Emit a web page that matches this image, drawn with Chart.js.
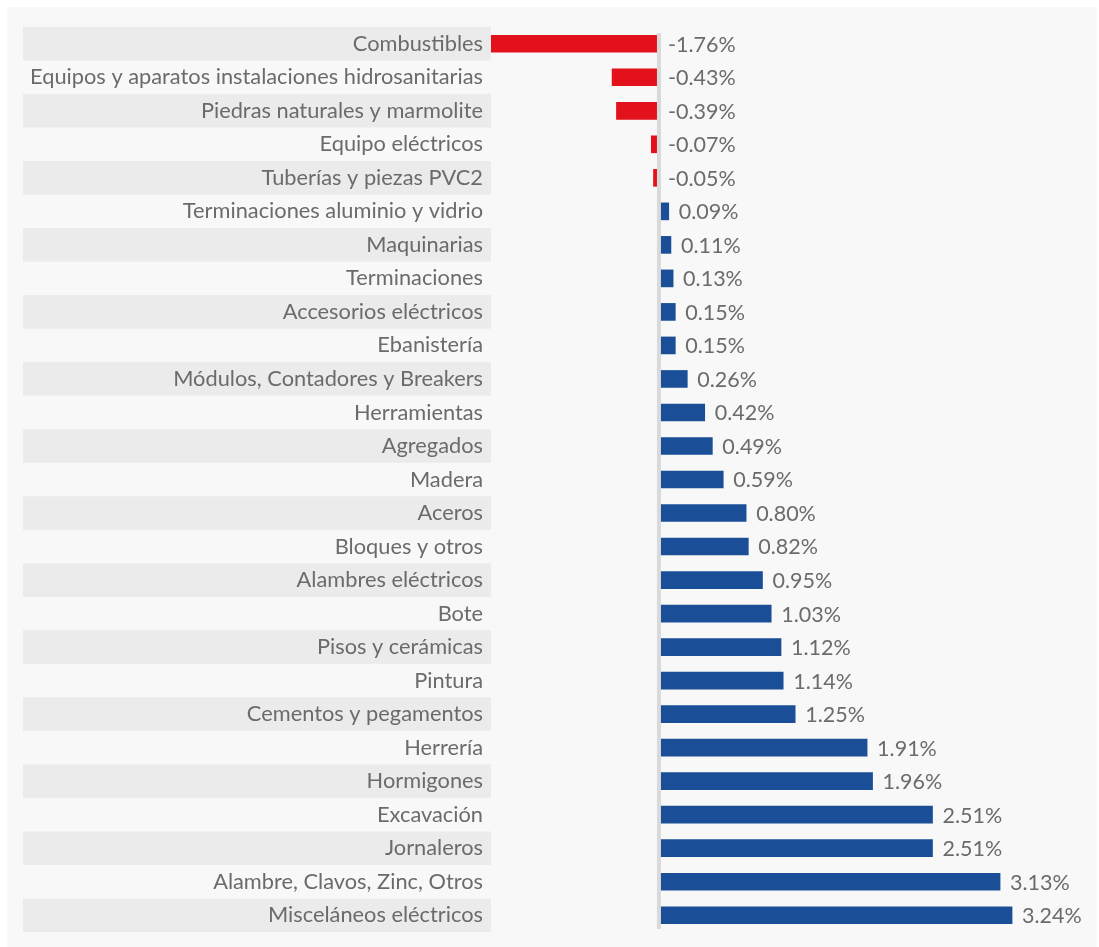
<!DOCTYPE html>
<html>
<head>
<meta charset="utf-8">
<script src="https://cdn.jsdelivr.net/npm/chart.js@4"></script>
<style>
  html, body { margin: 0; padding: 0; background: #ffffff; }
  #wrap { width: 1099px; height: 947px; }
</style>
</head>
<body>
<div id="wrap"><canvas id="myBarChart"></canvas></div>
<script>
const categories = [
    'Combustibles', 'Equipos y aparatos instalaciones hidrosanitarias', 'Piedras naturales y marmolite',
    'Equipo eléctricos', 'Tuberías y piezas PVC2', 'Terminaciones aluminio y vidrio', 'Maquinarias',
    'Terminaciones', 'Accesorios eléctricos', 'Ebanistería', 'Módulos, Contadores y Breakers',
    'Herramientas', 'Agregados', 'Madera', 'Aceros', 'Bloques y otros', 'Alambres eléctricos', 'Bote',
    'Pisos y cerámicas', 'Pintura', 'Cementos y pegamentos', 'Herrería', 'Hormigones', 'Excavación',
    'Jornaleros', 'Alambre, Clavos, Zinc, Otros', 'Misceláneos eléctricos'
];
const variation = [
    -1.76, -0.43, -0.39, -0.07, -0.05, 0.09, 0.11, 0.13, 0.15, 0.15, 0.26, 0.42, 0.49, 0.59,
    0.80, 0.82, 0.95, 1.03, 1.12, 1.14, 1.25, 1.91, 1.96, 2.51, 2.51, 3.13, 3.24
];

const RED = '#e3111b';
const BLUE = '#1a4f98';
const TEXT = '#6b6b6b';
const FONT = "Lato, 'Open Sans', sans-serif";

// panel, label stripes and the zero line
const backdrop = {
    id: 'backdrop',
    beforeDraw(chart) {
        const { ctx, scales: { x, y } } = chart;
        ctx.save();
        ctx.fillStyle = '#f8f8f8';
        ctx.fillRect(7, 7, chart.width - 9, chart.height - 7);
        ctx.fillStyle = '#ebebeb';
        const step = y.getPixelForValue(1) - y.getPixelForValue(0);
        categories.forEach((c, i) => {
            if (i % 2 === 0) {
                const cy = y.getPixelForValue(i);
                ctx.fillRect(23, cy - step / 2, x.left - 23, step);
            }
        });
        ctx.restore();
    },
    afterDatasetsDraw(chart) {
        const { ctx, scales: { x, y } } = chart;
        ctx.save();
        ctx.fillStyle = '#d9d9d9';
        const zx = x.getPixelForValue(0);
        ctx.fillRect(zx - 2, 33, 4, 896);

        // value labels
        ctx.font = '21.5px ' + FONT;
        ctx.fillStyle = TEXT;
        ctx.textBaseline = 'middle';
        ctx.textAlign = 'left';
        const meta = chart.getDatasetMeta(0);
        meta.data.forEach((bar, i) => {
            const v = variation[i];
            const lx = v < 0 ? zx + 9 : bar.x + 10;
            ctx.fillText(v.toFixed(2) + '%', lx, bar.y + 1);
        });
        ctx.restore();
    }
};

const ctx = document.getElementById('myBarChart').getContext('2d');
const myBarChart = new Chart(ctx, {
    type: 'bar',
    data: {
        labels: categories,
        datasets: [{
            data: variation,
            backgroundColor: variation.map(v => v < 0 ? RED : BLUE),
            barThickness: 17,
            borderWidth: 0
        }]
    },
    options: {
        indexAxis: 'y',
        responsive: true,
        maintainAspectRatio: false,
        animation: false,
        layout: { padding: { top: 27, bottom: 15, right: 15, left: 0 } },
        scales: {
            x: {
                display: false,
                min: -1.541,
                max: 3.9
            },
            y: {
                grid: { display: false, drawTicks: false },
                border: { display: false },
                ticks: {
                    color: TEXT,
                    font: { family: FONT, size: 21.8 },
                    padding: 8,
                    autoSkip: false
                },
                afterFit(scale) {
                    scale.width = 491;
                    scale.paddingTop = 0;
                    scale.paddingBottom = 0;
                }
            }
        },
        plugins: {
            legend: { display: false },
            tooltip: { enabled: false }
        }
    },
    plugins: [backdrop]
});
</script>
</body>
</html>
